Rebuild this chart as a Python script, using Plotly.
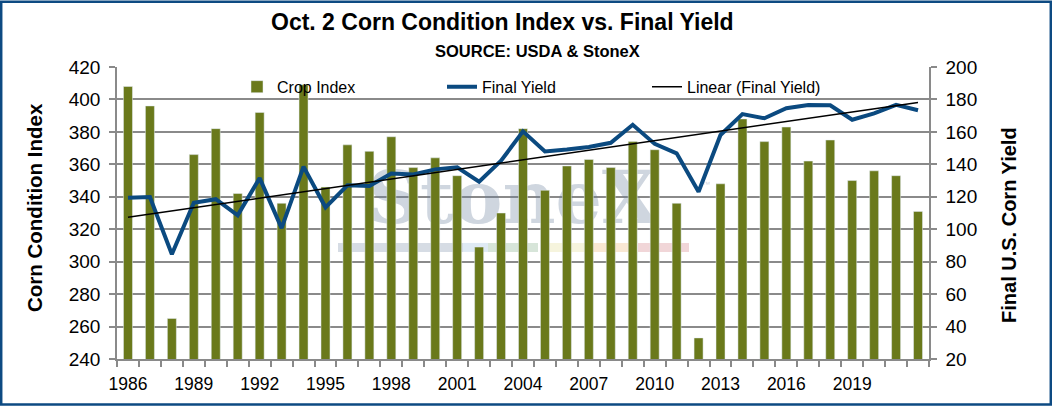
import numpy as np
import plotly.graph_objects as go

# ---------------- data ----------------
years = list(range(1986, 2023))
crop_index = [408, 396, 265, 366, 382, 342, 392, 336, 409, 346,
              372, 368, 377, 358, 364, 353, 309, 330, 382, 344,
              359, 363, 358, 374, 369, 336, 253, 348, 388, 374,
              383, 362, 375, 350, 356, 353, 331]
final_yield = [119.4, 119.8, 84.6, 116.3, 118.5, 108.6, 131.5, 100.7, 138.6, 113.5,
               127.1, 126.7, 134.4, 133.8, 136.9, 138.2, 129.3, 142.2, 160.3, 147.9,
               149.1, 150.7, 153.3, 164.4, 152.6, 146.8, 123.1, 158.1, 171.0, 168.4,
               174.6, 176.6, 176.4, 167.5, 171.4, 176.7, 173.3]
tick_years = [1986, 1989, 1992, 1995, 1998, 2001, 2004, 2007, 2010, 2013, 2016, 2019]
tick_labels = [str(y) for y in tick_years]
watermark_text = "StoneX"

# linear trend of the yield (like Excel's linear trendline)
coef = np.polyfit(years, final_yield, 1)
trend_x = [years[0], years[-1]]
trend_y = list(np.polyval(coef, trend_x))

# ---------------- layout geometry ----------------
W, H = 1052, 406
L, R, T, B = 117, 123, 66.7, 46.7
PW, PH = W - L - R, H - T - B


def px(xp):
    return (xp - L) / PW


def py(yp):
    return (H - B - yp) / PH


FONT = "Liberation Sans, Arial, sans-serif"
GRID = "#8a8a8a"
OLIVE = "#6a791b"
BLUE = "#0b4a80"

fig = go.Figure()

# watermark on hidden base axes (pixel-like coordinates), drawn beneath the data
fig.add_trace(go.Scatter(
    x=[513], y=[205], mode="text", text=["<b>" + watermark_text + "</b>"],
    textfont=dict(family="DejaVu Serif, Liberation Serif, serif", size=73,
                  color="rgba(105,128,155,0.32)"),
    xaxis="x", yaxis="y", showlegend=False, hoverinfo="skip"))
fig.add_trace(go.Scatter(
    x=[706], y=[185], mode="text", text=["™"],
    textfont=dict(family=FONT, size=8, color="rgba(105,128,155,0.35)"),
    xaxis="x", yaxis="y", showlegend=False, hoverinfo="skip"))

strip = [(338, 463, "#d6dce4"), (463, 488, "#dfeaf4"), (488, 538, "#d7e5d9"),
         (546, 590, "#f6f4dd"), (590, 633, "#f9e8d3"), (638, 689, "#f1d6d8")]
shapes = []
for x0, x1, c in strip:
    shapes.append(dict(type="rect", xref="x", yref="y", x0=x0, x1=x1, y0=243, y1=252,
                       fillcolor=c, line=dict(width=0), layer="below"))

# data
fig.add_trace(go.Bar(x=years, y=crop_index, name="Crop Index", marker_color=OLIVE,
                     xaxis="x2", yaxis="y2"))
fig.add_trace(go.Scatter(x=years, y=final_yield, name="Final Yield", mode="lines",
                         line=dict(color=BLUE, width=4), xaxis="x2", yaxis="y3"))
fig.add_trace(go.Scatter(x=trend_x, y=trend_y, name="Linear (Final Yield)", mode="lines",
                         line=dict(color="black", width=1.5), xaxis="x2", yaxis="y3"))

# outer border
shapes.append(dict(type="rect", xref="paper", yref="paper",
                   x0=px(1.2), x1=px(W - 1.2), y0=py(H - 1.2), y1=py(1.2),
                   line=dict(color="#0d4a82", width=2.5), fillcolor="rgba(0,0,0,0)"))

annotations = [
    dict(text="<b>Oct. 2 Corn Condition Index vs. Final Yield</b>", x=px(502), y=py(22),
         xref="paper", yref="paper", showarrow=False, xanchor="center", yanchor="middle",
         font=dict(family=FONT, size=23, color="black")),
    dict(text="<b>SOURCE: USDA & StoneX</b>", x=px(537), y=py(51),
         xref="paper", yref="paper", showarrow=False, xanchor="center", yanchor="middle",
         font=dict(family=FONT, size=16.5, color="black")),
    dict(text="<b>Corn Condition Index</b>", x=px(34), y=py(208), textangle=-90,
         xref="paper", yref="paper", showarrow=False, xanchor="center", yanchor="middle",
         font=dict(family=FONT, size=20.5, color="black")),
    dict(text="<b>Final U.S. Corn Yield</b>", x=px(1009), y=py(225), textangle=-90,
         xref="paper", yref="paper", showarrow=False, xanchor="center", yanchor="middle",
         font=dict(family=FONT, size=20, color="black")),
]

ytickfont = dict(family=FONT, size=19, color="black")
xtickfont = dict(family=FONT, size=17.5, color="black")

fig.update_layout(
    width=W, height=H,
    margin=dict(l=L, r=R, t=T, b=B, pad=0),
    paper_bgcolor="white", plot_bgcolor="white",
    bargap=0.59,
    showlegend=True,
    legend=dict(orientation="h", x=px(237), y=py(86.5), xanchor="left", yanchor="middle",
                bgcolor="rgba(0,0,0,0)", font=dict(family=FONT, size=16, color="black"),
                entrywidth=160, entrywidthmode="pixels", traceorder="normal"),
    xaxis=dict(domain=[0, 1], range=[L, L + PW], visible=False, fixedrange=True),
    yaxis=dict(domain=[0, 1], range=[H - B, T], visible=False, fixedrange=True),
    xaxis2=dict(overlaying="x", anchor="y2", range=[1985.5, 2022.5],
                tickmode="array", tickvals=tick_years, ticktext=tick_labels,
                ticks="outside", ticklen=0, tickcolor=GRID,
                minor=dict(tick0=1985.5, dtick=1, ticks="outside", ticklen=6,
                           tickcolor=GRID, tickwidth=1.5, showgrid=False),
                showgrid=False, showline=True, linecolor=GRID, linewidth=1.5,
                tickfont=xtickfont, ticklabelstandoff=8, zeroline=False),
    yaxis2=dict(overlaying="y", anchor="x2", side="left", range=[240, 420], dtick=20,
                tick0=240, showgrid=True, gridcolor=GRID, gridwidth=1.5,
                showline=True, linecolor=GRID, linewidth=1.5,
                ticks="outside", ticklen=6, tickcolor=GRID, tickwidth=1.5,
                tickfont=ytickfont, ticklabelstandoff=5, zeroline=False),
    yaxis3=dict(overlaying="y", anchor="x2", side="right", range=[20, 200], dtick=20,
                tick0=20, showgrid=False, showline=True, linecolor=GRID, linewidth=1.5,
                ticks="outside", ticklen=6, tickcolor=GRID, tickwidth=1.5,
                tickfont=ytickfont, ticklabelstandoff=5, zeroline=False),
    shapes=shapes,
    annotations=annotations,
)

fig.write_html("out.html", post_script="document.body.style.margin='0';",
               config={"displayModeBar": False})
